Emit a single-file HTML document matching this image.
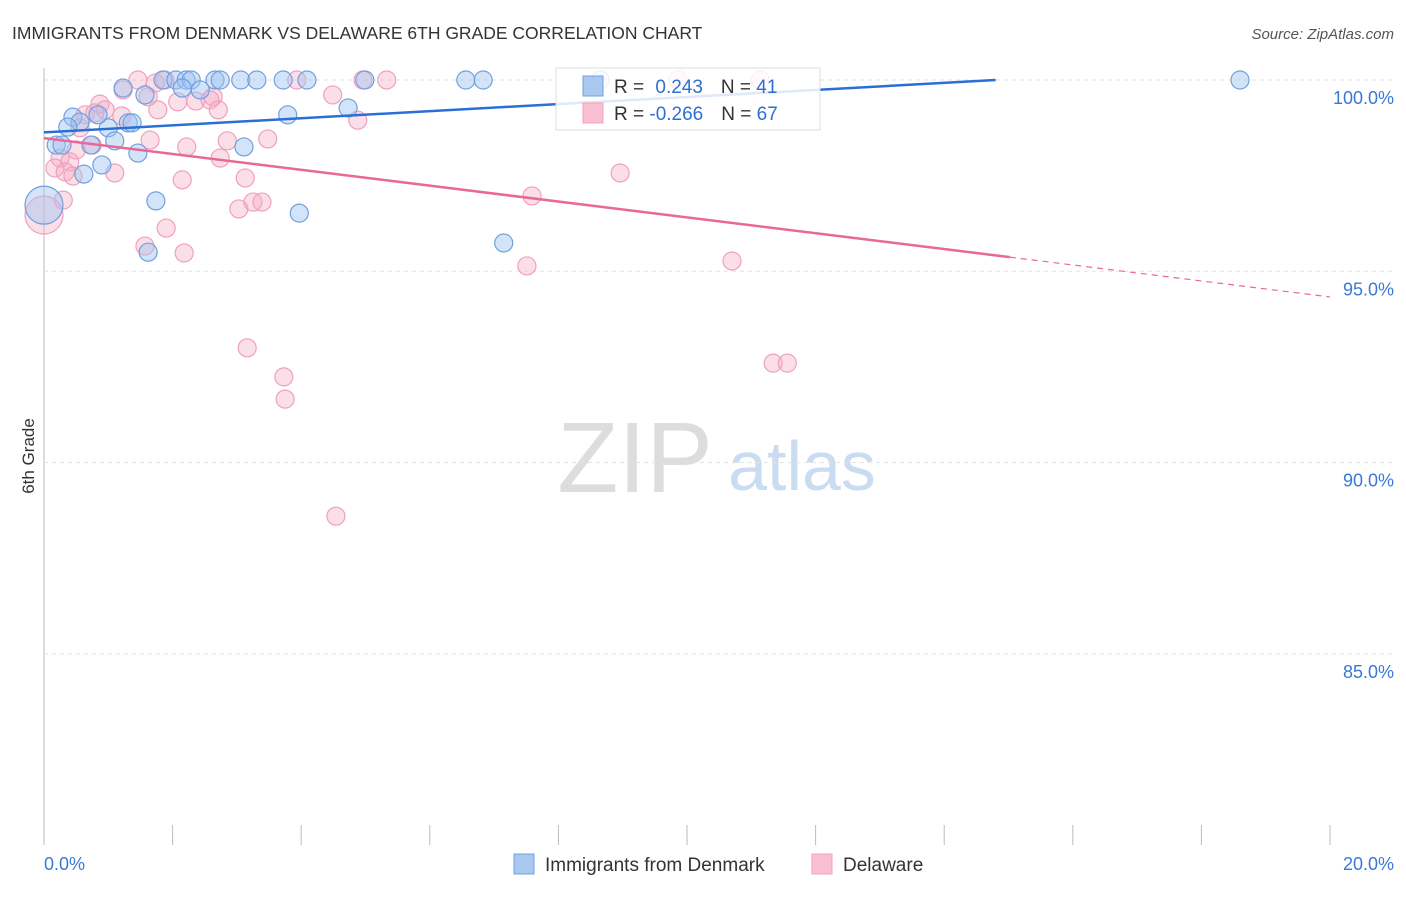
<!DOCTYPE html>
<html><head><meta charset="utf-8"><style>
body{margin:0;background:#fff;font-family:"Liberation Sans",sans-serif}
svg text{font-family:"Liberation Sans",sans-serif}
</style></head><body>
<svg id="c" width="1406" height="892">
<text x="12" y="39" font-size="17.5" fill="#333">IMMIGRANTS FROM DENMARK VS DELAWARE 6TH GRADE CORRELATION CHART</text>
<text x="1394" y="39" font-size="15" fill="#555" font-style="italic" text-anchor="end">Source: ZipAtlas.com</text>
<text x="34" y="456" font-size="17" fill="#333" transform="rotate(-90 34 456)" text-anchor="middle">6th Grade</text>
<g><text x="635" y="492" font-size="100" fill="#ddd" font-family="Liberation Serif" text-anchor="middle">ZIP</text><text x="802" y="490" font-size="70" fill="#c9dcf2" text-anchor="middle">atlas</text></g>
<g id="grid"></g><g id="pts"></g><g id="lines"></g>
<g>
<rect x="556" y="68" width="264" height="62" fill="#fff" fill-opacity="0.85" stroke="#ddd"/>
<rect x="583" y="76" width="20" height="20" fill="#a8c8f0" stroke="#6fa0e0"/>
<rect x="583" y="103" width="20" height="20" fill="#f8c0d2" stroke="#f0a0bc"/>
<text x="614" y="93" font-size="19" fill="#333">R = <tspan fill="#2f6fd0" dx="6">0.243</tspan><tspan dx="18">N = </tspan><tspan fill="#2f6fd0">41</tspan></text>
<text x="614" y="120" font-size="19" fill="#333">R = <tspan fill="#2f6fd0">-0.266</tspan><tspan dx="18">N = </tspan><tspan fill="#2f6fd0">67</tspan></text>
</g>
<g>
<rect x="514" y="854" width="20" height="20" fill="#a8c8f0" stroke="#6fa0e0"/>
<text x="545" y="871" font-size="19" fill="#333">Immigrants from Denmark</text>
<rect x="812" y="854" width="20" height="20" fill="#f8c0d2" stroke="#f0a0bc"/>
<text x="843" y="871" font-size="19" fill="#333">Delaware</text>
</g>
<text x="44" y="870" font-size="18" fill="#3a78d8">0.0%</text>
<text x="1394" y="870" font-size="18" fill="#3a78d8" text-anchor="end">20.0%</text>
</svg>
<script>
const yTicks=[100,95,90,85];
const xTicks=[0,2,4,6,8,10,12,14,16,18,20];
const blueX=[1.85,2.05,2.21,2.29,2.66,2.74,3.06,3.31,3.72,4.09,4.99,6.56,6.83,18.6,8.65,1.23,2.15,2.43,1.57,4.73,3.79,0.45,0.56,0.37,1.0,1.31,1.37,0.84,0.19,0.28,0.73,1.10,3.11,1.46,0.90,0.62,1.74,3.97,7.15,1.62,0];
const blueY=[100,100,100,100,100,100,100,100,100,100,100,100,100,100,100,99.79,99.79,99.74,99.61,99.27,99.09,99.03,98.90,98.77,98.75,98.88,98.88,99.09,98.30,98.30,98.30,98.41,98.25,98.09,97.78,97.54,96.84,96.52,95.74,95.50,96.73];
const pinkX=[1.46,1.73,1.88,3.93,4.96,5.33,11.14,9.86,1.23,1.62,2.63,2.36,2.08,2.58,0.87,0.95,0.64,0.79,1.21,1.77,2.71,4.49,4.88,0.56,1.65,2.85,3.48,2.22,0.75,0.50,0.25,0.40,0.17,0.33,0.45,1.10,2.74,3.13,2.15,7.59,8.96,3.03,3.25,3.39,0.30,0,1.90,1.57,2.18,7.51,10.70,3.16,3.73,3.75,4.54,11.34,11.56];
const pinkY=[100,99.92,100,100,100,100,100,100,99.74,99.56,99.56,99.45,99.43,99.48,99.37,99.22,99.09,99.14,99.06,99.22,99.22,99.61,98.95,98.75,98.43,98.41,98.46,98.25,98.30,98.17,97.96,97.86,97.70,97.60,97.49,97.57,97.96,97.44,97.39,96.97,97.57,96.63,96.81,96.81,96.86,96.47,96.13,95.66,95.48,95.14,95.27,93.0,92.24,91.66,88.6,92.6,92.6];
const blueTrend=[0,98.63,14.8,100];
const pinkTrend=[0,98.48,15.02,95.37,20,94.33];
const NS='http://www.w3.org/2000/svg';
const xs=v=>44+v*64.3, ys=v=>80+(100-v)*38.26;
function mk(t,a,p){const e=document.createElementNS(NS,t);for(const k in a)e.setAttribute(k,a[k]);p.appendChild(e);return e;}
const grid=document.getElementById('grid'),pts=document.getElementById('pts'),lines=document.getElementById('lines');
mk('line',{x1:44,y1:68,x2:44,y2:845,stroke:'#bbb'},grid);
yTicks.forEach(t=>{
 const l=mk('line',{x1:44,x2:1394,y1:ys(t),y2:ys(t),stroke:'#e2e2e2','stroke-dasharray':'4,4'},grid);
 
 
 const tx=mk('text',{x:1394,y:ys(t)+24,'font-size':18,fill:'#3a78d8','text-anchor':'end'},grid);
 tx.textContent=t.toFixed(1)+'%';
 
 
});
xTicks.forEach(t=>{
 const l=mk('line',{x1:xs(t),x2:xs(t),y1:825,y2:845,stroke:'#bbb'},grid);
 
 
});
function dots(X,Y,fill,stroke,name){X.forEach((x,i)=>{const big=x===0;
 const c=mk('circle',{cx:xs(x),cy:ys(Y[i]),r:big?19:9,fill:fill,stroke:stroke,'stroke-width':1.2},pts);
 
 });}
dots(pinkX,pinkY,'rgba(245,170,195,0.38)','#f0a0bc','delaware-point');
dots(blueX,blueY,'rgba(160,196,240,0.45)','#6fa0e0','denmark-point');
const bl=mk('line',{x1:xs(blueTrend[0]),y1:ys(blueTrend[1]),x2:xs(blueTrend[2]),y2:ys(blueTrend[3]),stroke:'#2a6fd6','stroke-width':2.5},lines);


const pl=mk('line',{x1:xs(pinkTrend[0]),y1:ys(pinkTrend[1]),x2:xs(pinkTrend[2]),y2:ys(pinkTrend[3]),stroke:'#e8689a','stroke-width':2.5},lines);


const pd=mk('line',{x1:xs(pinkTrend[2]),y1:ys(pinkTrend[3]),x2:xs(pinkTrend[4]),y2:ys(pinkTrend[5]),stroke:'#e8689a','stroke-width':1.2,'stroke-dasharray':'6,5'},lines);


</script>
</body></html>
